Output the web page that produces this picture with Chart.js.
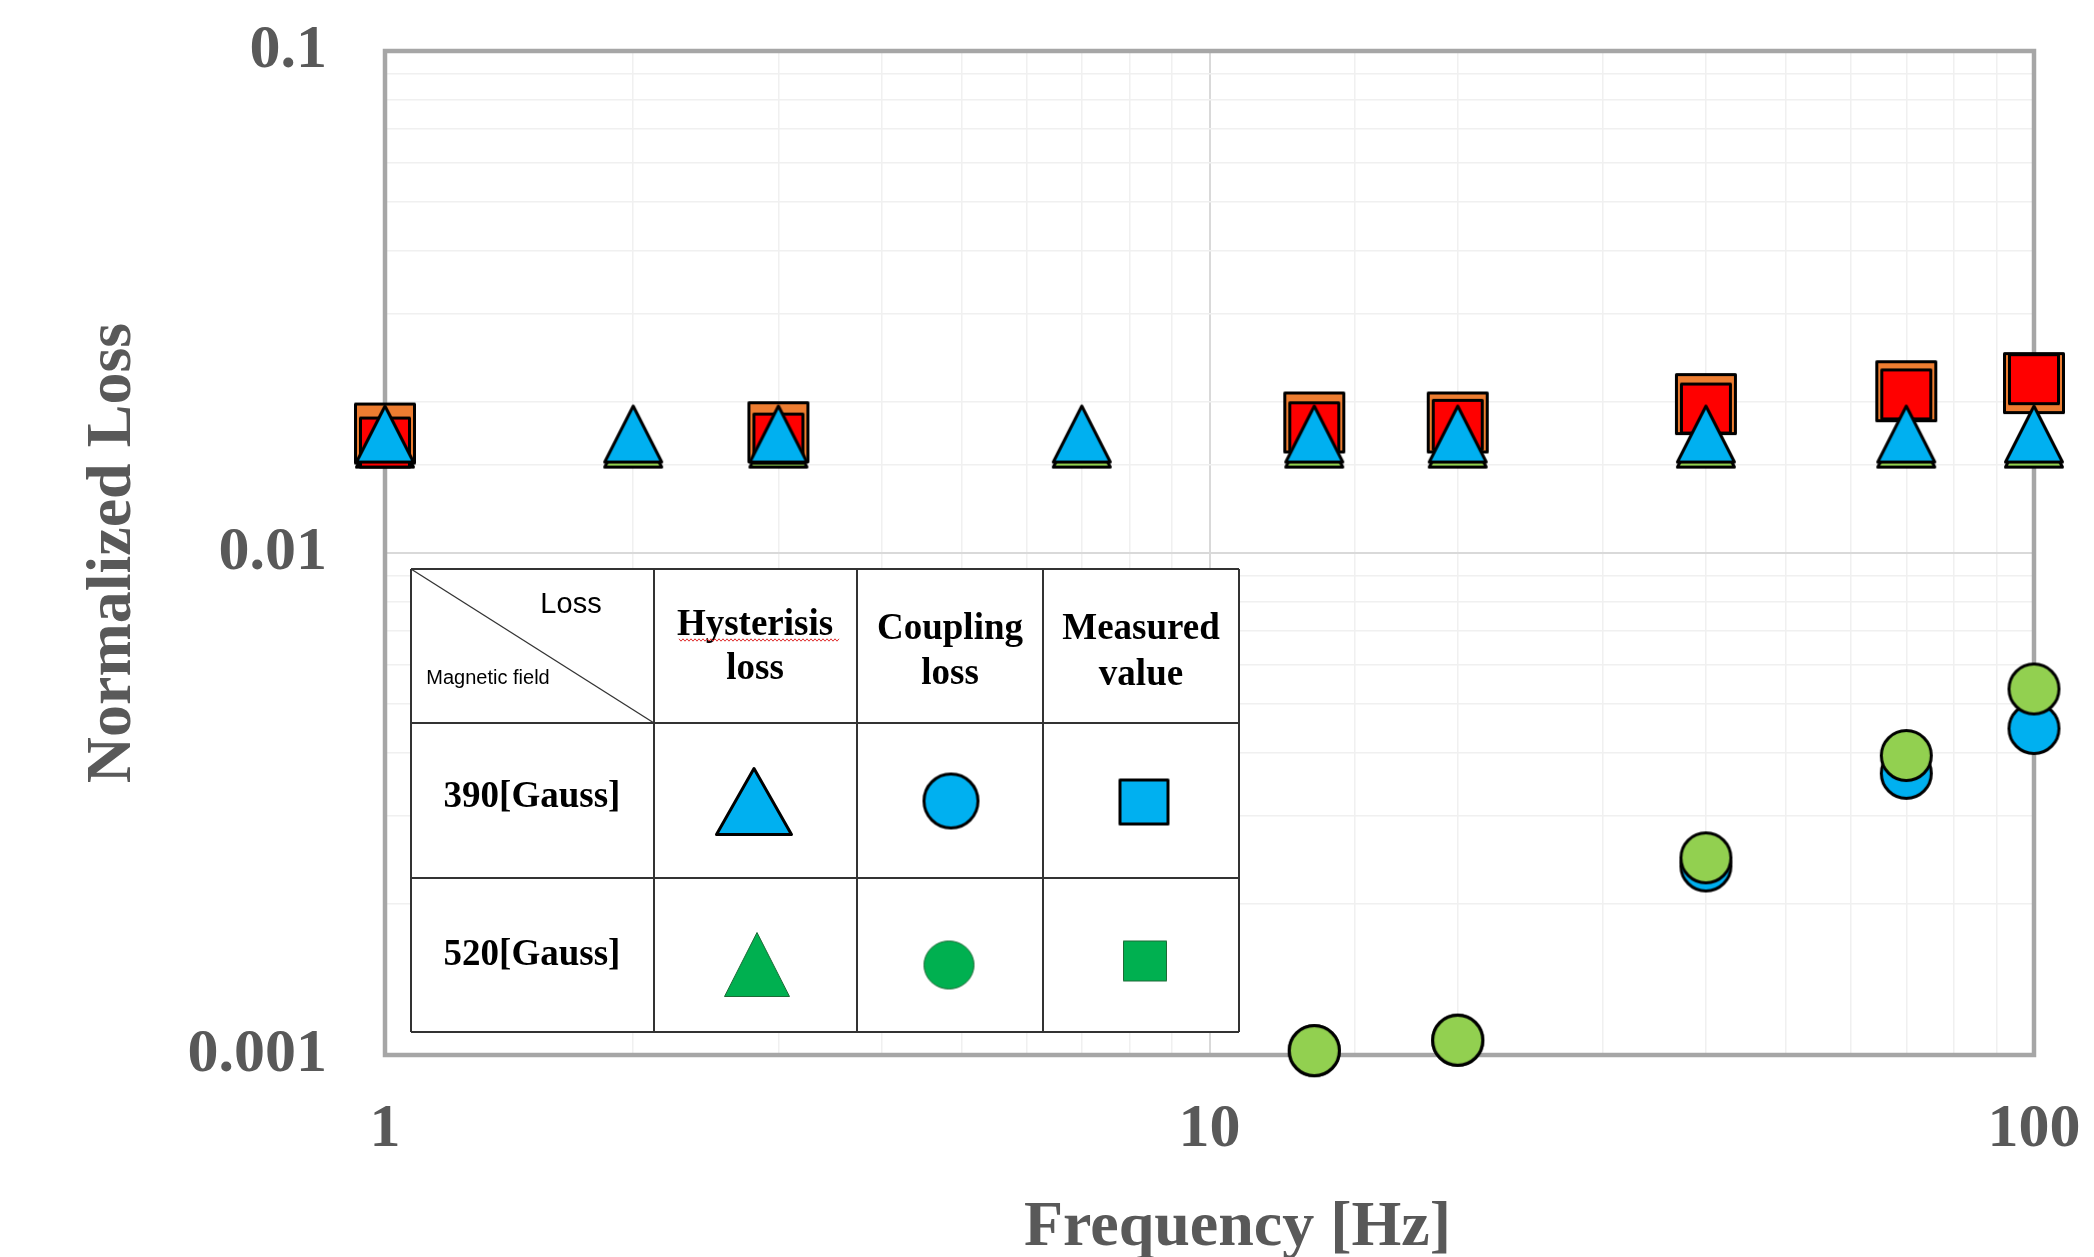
<!DOCTYPE html>
<html>
<head>
<meta charset="utf-8">
<script src="https://cdn.jsdelivr.net/npm/chart.js@4.4.1/dist/chart.umd.min.js"></script>
<style>
  html, body { margin: 0; padding: 0; background: #fff; }
  #wrap { width: 2094px; height: 1257px; position: relative; }
</style>
</head>
<body>
<div id="wrap"><canvas id="myChart"></canvas></div>
<script>
// Data
const hystFreq = [1, 2, 3, 7, 13.4, 20, 40, 70, 100];
const hyst390 = [0.0173, 0.0173, 0.0173, 0.0173, 0.0173, 0.0173, 0.0173, 0.0173, 0.0173];
const hyst520 = [0.0169, 0.0169, 0.0169, 0.0169, 0.0169, 0.0169, 0.0169, 0.0169, 0.0169];

const coupFreq = [13.4, 20, 40, 70, 100];
const coup390 = [0.00102, 0.00107, 0.00238, 0.00364, 0.00447];
const coup520 = [0.00102, 0.00107, 0.00247, 0.00395, 0.00536];

const measFreq = [1, 3, 13.4, 20, 40, 70, 100];
const meas390 = [0.0173, 0.0174, 0.0182, 0.0182, 0.0198, 0.0210, 0.0218];
const meas520 = [0.0166, 0.0169, 0.0178, 0.0180, 0.0194, 0.0207, 0.0222];

const xTickValues = [1, 10, 100];
const xTickLabels = ['1', '10', '100'];
const yTickValues = [0.001, 0.01, 0.1];
const yTickLabels = ['0.001', '0.01', '0.1'];

const axisGray = '#595959';
const serif = "'Liberation Serif', 'Times New Roman', serif";
const sans = "'Liberation Sans', Arial, sans-serif";

// draw a marker shape into a small canvas, used as pointStyle
function makeMarker(shape, w, h, fill, stroke, lw) {
    const c = document.createElement('canvas');
    c.width = w + 4;
    c.height = h + 4;
    const g = c.getContext('2d');
    const p = 2 + lw / 2;
    g.beginPath();
    if (shape === 'triangle') {
        g.moveTo(c.width / 2, p + 1);
        g.lineTo(c.width - p, c.height - p);
        g.lineTo(p, c.height - p);
        g.closePath();
    } else if (shape === 'square') {
        g.rect(p, p, c.width - 2 * p, c.height - 2 * p);
    } else {
        g.ellipse(c.width / 2, c.height / 2, c.width / 2 - p, c.height / 2 - p, 0, 0, Math.PI * 2);
    }
    g.fillStyle = fill;
    g.fill();
    if (lw) {
        g.lineWidth = lw;
        g.strokeStyle = stroke;
        g.lineJoin = 'round';
        g.stroke();
    }
    return c;
}

const triBlue = makeMarker('triangle', 60, 60, '#00B0F0', '#000', 3);
const triGreen = makeMarker('triangle', 60, 60, '#92D050', '#000', 3);
const sqOrange = makeMarker('square', 62, 62, '#ED7D31', '#000', 3);
const sqRed = makeMarker('square', 52, 52, '#FF0000', '#000', 3);
const cirBlue = makeMarker('circle', 53, 53, '#00B0F0', '#000', 3);
const cirGreen = makeMarker('circle', 53, 53, '#92D050', '#000', 3);

const pts = (xs, ys) => xs.map((x, i) => ({ x: x, y: ys[i] }));
const isDecade = v => Math.abs(Math.log10(v) - Math.round(Math.log10(v))) < 1e-6;
function decadeLabel(value, vals, labels) {
    const i = vals.findIndex(t => Math.abs(Math.log10(t) - Math.log10(value)) < 1e-6);
    return i >= 0 ? labels[i] : '';
}

// plot frame (drawn under the markers)
const frame = {
    id: 'frame',
    afterLayout(chart) {
        // x title sits a bit right of the plot centre in the original
        chart.scales.x.left += 56;
    },
    beforeDatasetsDraw(chart) {
        const { ctx, chartArea: a } = chart;
        ctx.save();
        ctx.strokeStyle = '#A6A6A6';
        ctx.lineWidth = 4.5;
        ctx.strokeRect(a.left, a.top, a.right - a.left, a.bottom - a.top);
        ctx.restore();
    }
};

// the table legend in the lower left of the plot
const cols = [411, 654, 857, 1043, 1239];
const rows = [569, 723, 878, 1032];
const legendTable = {
    id: 'legendTable',
    afterDraw(chart) {
        const ctx = chart.ctx;
        ctx.save();
        ctx.fillStyle = '#fff';
        ctx.fillRect(cols[0], rows[0], cols[4] - cols[0], rows[3] - rows[0]);
        ctx.strokeStyle = '#333';
        ctx.lineWidth = 2;
        cols.forEach(x => { ctx.beginPath(); ctx.moveTo(x, rows[0]); ctx.lineTo(x, rows[3]); ctx.stroke(); });
        rows.forEach(y => { ctx.beginPath(); ctx.moveTo(cols[0], y); ctx.lineTo(cols[4], y); ctx.stroke(); });
        ctx.lineWidth = 1.3;
        ctx.beginPath();
        ctx.moveTo(cols[0], rows[0]);
        ctx.lineTo(cols[1], rows[1]);
        ctx.stroke();

        ctx.fillStyle = '#000';
        ctx.textAlign = 'center';
        ctx.textBaseline = 'middle';
        ctx.font = '29px ' + sans;
        ctx.fillText('Loss', 571, 605);
        ctx.font = '20px ' + sans;
        ctx.fillText('Magnetic field', 488, 678);

        ctx.font = 'bold 37px ' + serif;
        ctx.fillText('Hysterisis', 755, 625);
        ctx.fillText('loss', 755, 669);
        ctx.fillText('Coupling', 950, 629);
        ctx.fillText('loss', 950, 674);
        ctx.fillText('Measured', 1141, 629);
        ctx.fillText('value', 1141, 675);
        ctx.fillText('390[Gauss]', 532, 797);
        ctx.fillText('520[Gauss]', 532, 955);

        // spell-check squiggle under Hysterisis
        ctx.strokeStyle = '#E03030';
        ctx.lineWidth = 1;
        ctx.beginPath();
        for (let x = 679, k = 0; x <= 839; x += 2, k++) {
            const y = 640 + (k % 2 ? 1.2 : -1.2);
            if (k === 0) ctx.moveTo(x, y); else ctx.lineTo(x, y);
        }
        ctx.stroke();

        const icons = [
            [makeMarker('triangle', 78, 70, '#00B0F0', '#000', 3), 754, 801],
            [makeMarker('circle', 57, 57, '#00B0F0', '#000', 3), 951, 801],
            [makeMarker('square', 51, 47, '#00B0F0', '#000', 3), 1144, 802],
            [makeMarker('triangle', 66, 66, '#00B050', '#1d6b36', 1), 757, 964],
            [makeMarker('circle', 51, 49, '#00B050', '#1d6b36', 1), 949, 965],
            [makeMarker('square', 44, 41, '#00B050', '#1d6b36', 1), 1145, 961]
        ];
        icons.forEach(([img, x, y]) => ctx.drawImage(img, x - img.width / 2, y - img.height / 2));
        ctx.restore();
    }
};

const ctx = document.getElementById('myChart').getContext('2d');
new Chart(ctx, {
    type: 'scatter',
    data: {
        datasets: [
            { label: 'Hysterisis 520', data: pts(hystFreq, hyst520), pointStyle: triGreen, order: 5 },
            { label: 'Measured 390', data: pts(measFreq, meas390), pointStyle: sqOrange, order: 4 },
            { label: 'Measured 520', data: pts(measFreq, meas520), pointStyle: sqRed, order: 3 },
            { label: 'Hysterisis 390', data: pts(hystFreq, hyst390), pointStyle: triBlue, order: 2 },
            { label: 'Coupling 390', data: pts(coupFreq, coup390), pointStyle: cirBlue, order: 1 },
            { label: 'Coupling 520', data: pts(coupFreq, coup520), pointStyle: cirGreen, order: 0 }
        ].map(d => Object.assign(d, { pointRadius: 30, pointHoverRadius: 30, clip: false }))
    },
    options: {
        responsive: true,
        maintainAspectRatio: false,
        animation: false,
        layout: { padding: { left: 0, top: 51, right: 60, bottom: 0 } },
        plugins: { legend: { display: false }, tooltip: { enabled: false } },
        scales: {
            x: {
                type: 'logarithmic',
                min: 1,
                max: 100,
                // fixed box, and no extra room for the end labels
                afterFit: s => { s.height = 202; s.paddingLeft = 0; s.paddingRight = 0; },
                border: { display: false },
                grid: {
                    drawTicks: false,
                    color: c => isDecade(c.tick.value) ? '#D9D9D9' : '#F0F0F0',
                    lineWidth: c => isDecade(c.tick.value) ? 2 : 1.5
                },
                ticks: {
                    autoSkip: false,
                    maxRotation: 0,
                    minRotation: 0,
                    padding: 44,
                    color: axisGray,
                    font: { family: serif, size: 62, weight: 'bold', lineHeight: 1 },
                    callback: v => decadeLabel(v, xTickValues, xTickLabels)
                },
                title: {
                    display: true,
                    text: 'Frequency [Hz]',
                    color: axisGray,
                    padding: { top: 0, bottom: -3 },
                    font: { family: serif, size: 64, weight: 'bold', lineHeight: 1 }
                }
            },
            y: {
                type: 'logarithmic',
                min: 0.001,
                max: 0.1,
                afterFit: s => { s.width = 385; s.paddingTop = 0; s.paddingBottom = 0; },
                border: { display: false },
                grid: {
                    drawTicks: false,
                    color: c => isDecade(c.tick.value) ? '#D9D9D9' : '#F0F0F0',
                    lineWidth: c => isDecade(c.tick.value) ? 2 : 1.5
                },
                ticks: {
                    autoSkip: false,
                    padding: 58,
                    color: axisGray,
                    font: { family: serif, size: 62, weight: 'bold', lineHeight: 1 },
                    callback: v => decadeLabel(v, yTickValues, yTickLabels)
                },
                title: {
                    display: true,
                    text: 'Normalized Loss',
                    color: axisGray,
                    padding: { top: 81, bottom: 0 },
                    font: { family: serif, size: 64, weight: 'bold', lineHeight: 1 }
                }
            }
        }
    },
    plugins: [frame, legendTable]
});
</script>
</body>
</html>
